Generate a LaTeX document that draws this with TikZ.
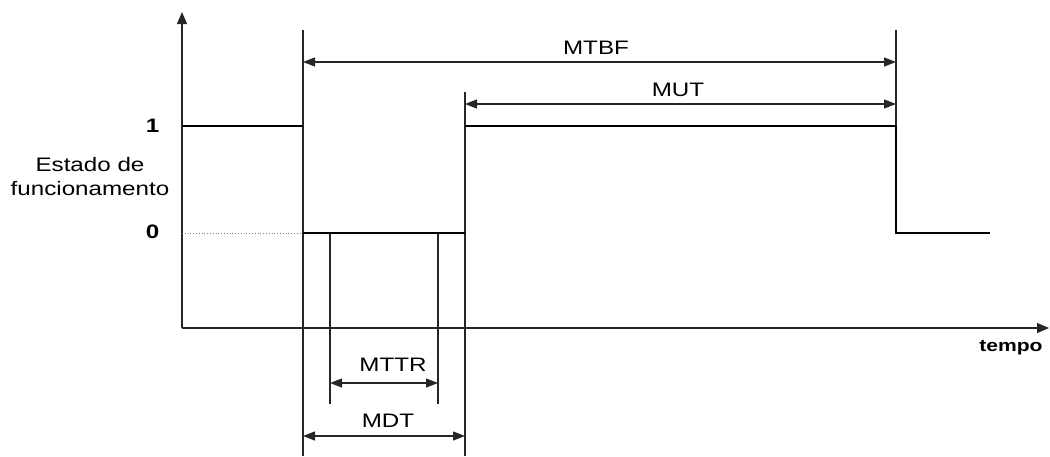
\documentclass[tikz,border=0pt]{standalone}
\usepackage{graphicx}
\usepackage{fontspec}
\setmainfont{Liberation Sans}
\usetikzlibrary{arrows.meta}
\newcommand{\wide}[1]{\scalebox{1.24}[1]{#1}}
\begin{document}
\begin{tikzpicture}[x=1pt,y=-1pt,
  thin line/.style={line width=1.3pt, black!85},
  signal/.style={line width=2pt, black},
  dim/.style={line width=1.3pt, black!85, {Triangle[length=12pt,width=9pt]}-{Triangle[length=12pt,width=9pt]}},
  lbl/.style={font=\fontsize{19.5}{24}\selectfont, inner sep=0pt},
  lvl/.style={font=\fontsize{19.5}{24}\selectfont\bfseries, inner sep=0pt}]
\useasboundingbox (0,0) rectangle (1050,456);
% coordinates
\coordinate (O) at (182,328);
\coordinate (Ytop) at (182,12);
\coordinate (Xend) at (1049,328);
% axes
\draw[thin line, -{Triangle[length=12pt,width=10pt]}] (O) -- (Ytop);
\draw[thin line, -{Triangle[length=12pt,width=10pt]}] (O) -- (Xend);
\node[font=\fontsize{17}{20}\selectfont\bfseries, inner sep=0pt] (tempo) at (1011,348) {\wide{tempo}};
% levels
\node[lvl] (one) at (152.5,125.5) {\wide{1}};
\node[lvl] (zero) at (152.5,232) {\wide{0}};
\node[lbl, align=center] (estado) at (90,177) {\wide{Estado de}\\\wide{funcionamento}};
% dotted guide
\draw[line width=0.8pt, black!50, dotted] (182,233) -- (303,233);
% vertical reference lines
\draw[thin line] (303,30) -- (303,456);
\draw[thin line] (465,92) -- (465,456);
\draw[thin line] (896,30) -- (896,233);
\draw[thin line] (330,233) -- (330,404);
\draw[thin line] (438,233) -- (438,404);
% signal
\draw[signal] (182,126) -- (303,126);
\draw[signal] (303,233) -- (465,233);
\draw[signal] (465,126) -- (896,126);
\draw[signal] (896,126) -- (896,233) -- (990,233);
% dimension arrows
\coordinate (a1) at (303,62); \coordinate (b1) at (896,62);
\draw[dim] (a1) -- (b1);
\node[lbl] (mtbf) at (596,48) {\wide{MTBF}};
\coordinate (a2) at (465,104); \coordinate (b2) at (896,104);
\draw[dim] (a2) -- (b2);
\node[lbl] (mut) at (678,89.5) {\wide{MUT}};
\coordinate (a3) at (330,383); \coordinate (b3) at (438,383);
\draw[dim] (a3) -- (b3);
\node[lbl] (mttr) at (393,364.5) {\wide{MTTR}};
\coordinate (a4) at (303,436); \coordinate (b4) at (465,436);
\draw[dim] (a4) -- (b4);
\node[lbl] (mdt) at (388,421) {\wide{MDT}};
\end{tikzpicture}
\end{document}
